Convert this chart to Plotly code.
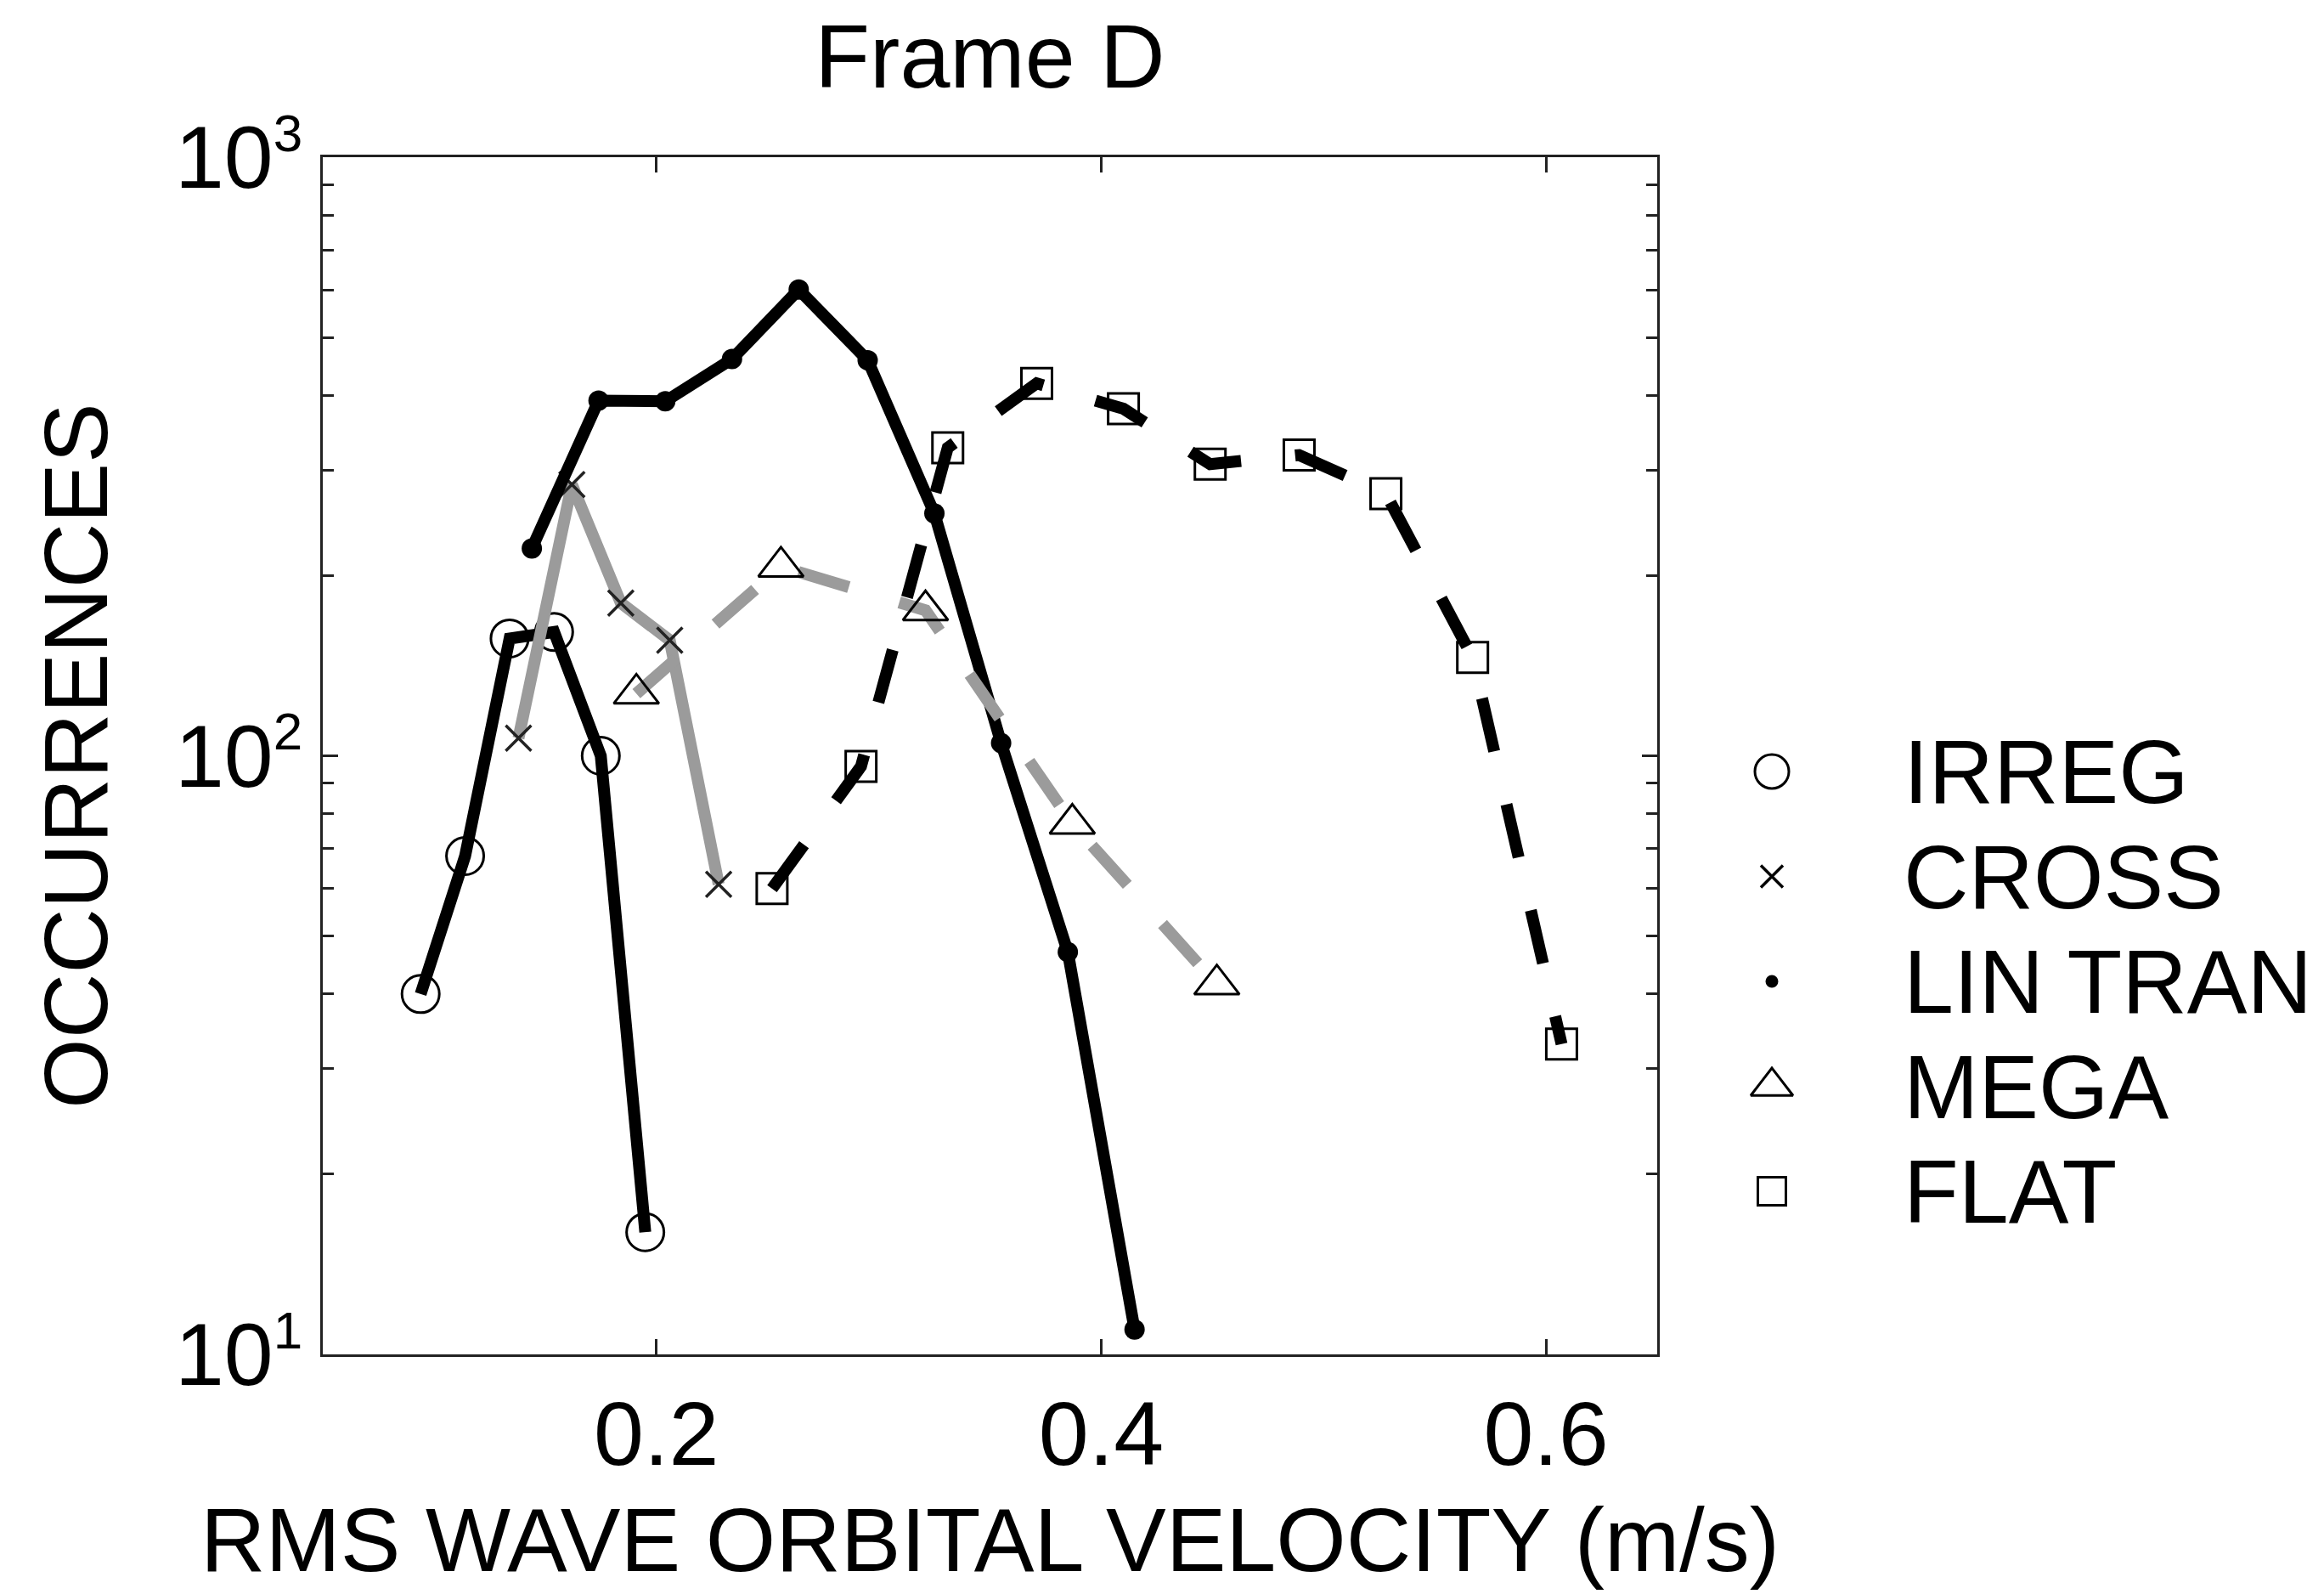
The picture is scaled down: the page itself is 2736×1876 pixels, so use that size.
import plotly.graph_objects as go

W, H = 2736, 1876

# ---------------- data ----------------
categories = ["IRREG", "CROSS", "LIN TRAN", "MEGA", "FLAT"]

irreg_x = [0.094, 0.114, 0.134, 0.154, 0.175, 0.195]
irreg_y = [40, 68, 157, 161, 100, 16]

cross_x = [0.138, 0.162, 0.184, 0.206, 0.228]
cross_y = [107, 284, 180, 156, 61]

lintran_x = [0.144, 0.174, 0.204, 0.234, 0.264, 0.295, 0.325, 0.355, 0.385, 0.415]
lintran_y = [222, 392, 391, 460, 601, 458, 254, 105, 47, 11]

mega_x = [0.191, 0.256, 0.321, 0.387, 0.452]
mega_y = [127, 207, 175, 77, 41.5]

flat_x = [0.252, 0.292, 0.331, 0.371, 0.410, 0.449, 0.489, 0.528, 0.567, 0.607]
flat_y = [60, 96, 327, 419, 380, 307, 318, 274, 146, 33]

x_tickvals = [0.2, 0.4, 0.6]
x_ticktext = ["0.2", "0.4", "0.6"]
y_exponents = [1, 2, 3]
y_tickvals = [10 ** e for e in y_exponents]
y_minor = [m * 10 ** e for e in [1, 2] for m in range(2, 10)]

title_text = "Frame D"
x_title = "RMS WAVE ORBITAL VELOCITY (m/s)"
y_title = "OCCURRENCES"

# ---------------- styles ----------------
FONT = "Liberation Sans, Arial, Helvetica, sans-serif"
GRAY = "#9b9b9b"
LW = 14
y_ticktext = ["10<sup><span style='font-size:62px'>%d</span></sup>" % e for e in y_exponents]

series = [
    dict(name="IRREG", x=irreg_x, y=irreg_y, line=dict(color="black", width=LW),
         marker=dict(symbol="circle-open", size=44, color="black", line=dict(width=3, color="black")),
         leg=dict(symbol="circle-open", size=40, line=dict(width=3, color="black"))),
    dict(name="CROSS", x=cross_x, y=cross_y, line=dict(color=GRAY, width=LW),
         marker=dict(symbol="x-thin-open", size=30, color="#222", line=dict(width=3.5, color="#222")),
         leg=dict(symbol="x-thin-open", size=26, line=dict(width=3.5, color="#222"))),
    dict(name="LIN TRAN", x=lintran_x, y=lintran_y, line=dict(color="black", width=LW),
         marker=dict(symbol="circle", size=24, color="black"),
         leg=dict(symbol="circle", size=15, line=dict(width=0))),
    dict(name="MEGA", x=mega_x, y=mega_y, line=dict(color=GRAY, width=LW, dash="62px,62px"),
         marker=dict(symbol="triangle-up-open", size=46, color="black", line=dict(width=3, color="black")),
         leg=dict(symbol="triangle-up-open", size=43, line=dict(width=3, color="black"))),
    dict(name="FLAT", x=flat_x, y=flat_y, line=dict(color="black", width=LW, dash="64px,64px"),
         marker=dict(symbol="square-open", size=36, color="black", line=dict(width=3, color="black")),
         leg=dict(symbol="square-open", size=33, line=dict(width=3, color="black"))),
]

fig = go.Figure()
for s in series:
    fig.add_trace(go.Scatter(x=s["x"], y=s["y"], mode="lines+markers", name=s["name"],
                             line=s["line"], marker=s["marker"], showlegend=False,
                             xaxis="x", yaxis="y"))

# hand-made legend (markers only) in a side subplot, rows by category index
for i, s in enumerate(series):
    fig.add_trace(go.Scatter(x=[0], y=[i], mode="markers", name=s["name"], showlegend=False,
                             marker=dict(color="black", **s["leg"]), xaxis="x2", yaxis="y2",
                             hoverinfo="skip"))

# plot area in pixels
L, R, T, B = 380, 1951, 185, 1594
row0, row_step = 908, 123.5

annotations = []
for i, c in enumerate(categories):
    annotations.append(dict(text=c, xref="paper", x=2239 / W, xanchor="left",
                            yref="y2", y=i, yanchor="middle", showarrow=False,
                            font=dict(family=FONT, size=106, color="black")))

axis_common = dict(showline=True, linecolor="#222", linewidth=3, mirror="ticks",
                   ticks="inside", tickcolor="#222", tickwidth=3, showgrid=False,
                   zeroline=False, automargin=False)

fig.update_layout(
    width=W, height=H,
    template="none",
    paper_bgcolor="white", plot_bgcolor="white",
    margin=dict(l=0, r=0, t=0, b=0),
    font=dict(family=FONT, size=106, color="black"),
    title=dict(text=title_text, x=((L + R) / 2) / W, xanchor="center", xref="paper",
               y=1 - 66 / H, yanchor="middle", yref="paper",
               font=dict(family=FONT, size=106, color="black")),
    showlegend=False,
    xaxis=dict(domain=[L / W, R / W], range=[0.05, 0.65], tickvals=x_tickvals, ticktext=x_ticktext,
               ticklen=18, tickfont=dict(size=106), ticklabelstandoff=0,
               title=dict(text=x_title, font=dict(size=106), standoff=30),
               anchor="y", **axis_common),
    yaxis=dict(domain=[1 - B / H, 1 - T / H], type="log", range=[1, 3], tickvals=y_tickvals,
               ticktext=y_ticktext, ticklen=18, tickfont=dict(size=104), ticklabelstandoff=0,
               minor=dict(tickmode="array", tickvals=y_minor, ticks="inside", ticklen=13,
                          tickcolor="#222", tickwidth=3, showgrid=False),
               title=dict(text=y_title, font=dict(size=106), standoff=44),
               anchor="x", **axis_common),
    xaxis2=dict(domain=[(2086 - 40) / W, (2086 + 40) / W], range=[-1, 1], visible=False,
                anchor="y2", fixedrange=True),
    yaxis2=dict(domain=[0, 1], range=[(H - row0) / row_step, -row0 / row_step], visible=False,
                anchor="x2", fixedrange=True),
    annotations=annotations,
)

fig.write_html("out.html")
